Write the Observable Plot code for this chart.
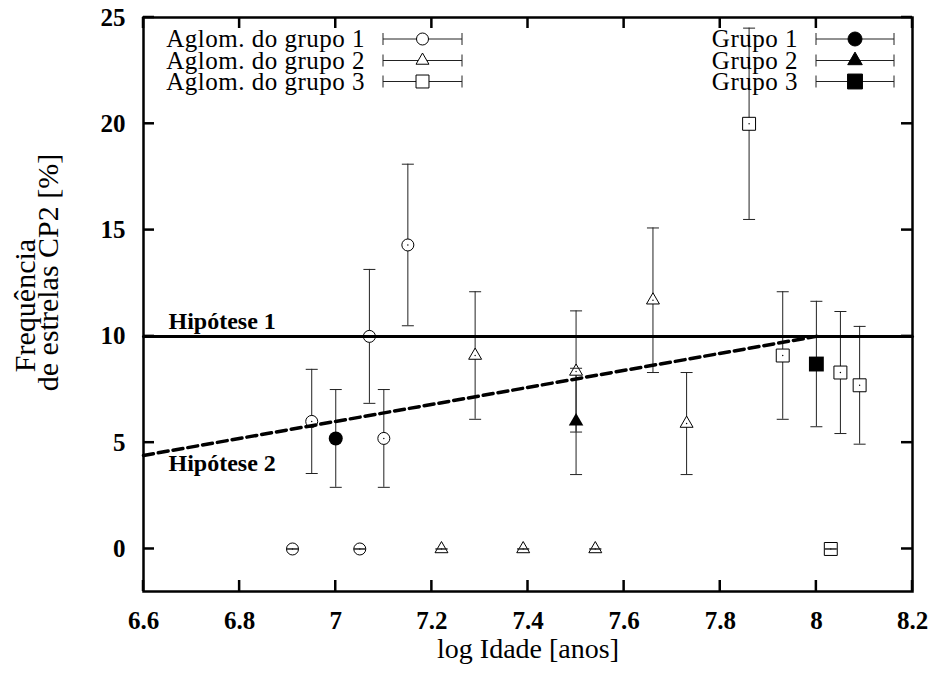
<!DOCTYPE html>
<html><head><meta charset="utf-8">
<script src="https://cdn.jsdelivr.net/npm/d3@7"></script>
<script src="https://cdn.jsdelivr.net/npm/@observablehq/plot@0.6"></script>
<style>
body{margin:0;background:#fff;}
#chart svg{display:block;}
</style>
</head><body><div id="chart"></div>
<script>
// ---- data ----
const aglom1X = [6.91, 6.95, 7.05, 7.07, 7.10, 7.15];
const aglom1Y = [0, 6.0, 0, 10.0, 5.2, 14.3];
const aglom1E = [0, 2.45, 0, 3.15, 2.3, 3.8];
const aglom2X = [7.22, 7.29, 7.39, 7.50, 7.54, 7.66, 7.73];
const aglom2Y = [0, 9.1, 0, 8.35, 0, 11.7, 5.9];
const aglom2E = [0, 3.0, 0, 2.85, 0, 3.4, 2.4];
const aglom3X = [7.86, 7.93, 8.03, 8.05, 8.09];
const aglom3Y = [20.0, 9.1, 0, 8.3, 7.7];
const aglom3E = [4.5, 3.0, 0, 2.87, 2.77];
const grupoX = [7.0, 7.5, 8.0];
const grupoY = [5.2, 6.0, 8.7];
const grupoE = [2.3, 2.5, 2.95];
const hip1X = [6.6, 8.2];
const hip1Y = [10, 10];
const hip2X = [6.6, 8.0];
const hip2Y = [4.4, 10];
const hipLabels = ["Hipótese 1", "Hipótese 2"];
const xTicks = [6.6, 6.8, 7.0, 7.2, 7.4, 7.6, 7.8, 8.0, 8.2];
const yTicks = [0, 5, 10, 15, 20, 25];
const legendLeft = ["Aglom. do grupo 1", "Aglom. do grupo 2", "Aglom. do grupo 3"];
const legendRight = ["Grupo 1", "Grupo 2", "Grupo 3"];
const xLabel = "log Idade [anos]";
const yLabel1 = "Frequência";
const yLabel2 = "de estrelas CP2 [%]";

// ---- tables ----
function table(xs, ys, es, g) {
  return xs.map((x, i) => ({x, y: ys[i], lo: ys[i] - es[i], hi: ys[i] + es[i], g}));
}
const a1 = table(aglom1X, aglom1Y, aglom1E, 1);
const a2 = table(aglom2X, aglom2Y, aglom2E, 2);
const a3 = table(aglom3X, aglom3Y, aglom3E, 3);
const gr = table(grupoX, grupoY, grupoE, 0);
const allRows = [...a1, ...a2, ...a3, ...gr];
const openRows = [...a1, ...a2, ...a3];

const cap = {draw(ctx) { ctx.moveTo(-6, 0); ctx.lineTo(6, 0); }};
const FONT = "'Liberation Serif', 'Times New Roman', serif";

// inward ticks on all four sides
function tickMarks(index, scales, values, dims) {
  const {x, y} = scales;
  const t = dims.marginTop, b = dims.height - dims.marginBottom;
  const l = dims.marginLeft, r = dims.width - dims.marginRight;
  const g = d3.create("svg:g").attr("stroke", "black").attr("stroke-width", 2.5);
  for (const v of xTicks) {
    const px = x(v);
    g.append("line").attr("x1", px).attr("x2", px).attr("y1", b).attr("y2", b - 11);
    g.append("line").attr("x1", px).attr("x2", px).attr("y1", t).attr("y2", t + 11);
  }
  for (const v of yTicks) {
    const py = y(v);
    g.append("line").attr("y1", py).attr("y2", py).attr("x1", l).attr("x2", l + 11);
    g.append("line").attr("y1", py).attr("y2", py).attr("x1", r).attr("x2", r - 11);
  }
  return g.node();
}

// key with sample error bars
function legendMark(index, scales, values, dims) {
  const t = dims.marginTop;
  const l = dims.marginLeft, r = dims.width - dims.marginRight;
  const g = d3.create("svg:g");
  const rowsY = [22, 43.5, 64.5].map(d => t + d);
  const openSyms = [
    d3.symbol(d3.symbolCircle, Math.PI * 36),
    d3.symbol(d3.symbolTriangle, Math.PI * 4.8 * 4.8),
    d3.symbol(d3.symbolSquare, Math.PI * 7.3 * 7.3)
  ];
  const fillSyms = [
    d3.symbol(d3.symbolCircle, Math.PI * 49),
    d3.symbol(d3.symbolTriangle, Math.PI * 5.4 * 5.4),
    d3.symbol(d3.symbolSquare, Math.PI * 8.4 * 8.4)
  ];
  const blocks = [
    {labels: legendLeft, tx: l + 222, x1: l + 240, x2: l + 319, syms: openSyms, filled: false},
    {labels: legendRight, tx: r - 114, x1: r - 96, x2: r - 18, syms: fillSyms, filled: true}
  ];
  for (const blk of blocks) {
    blk.labels.forEach((lab, i) => {
      const yy = rowsY[i];
      g.append("text").attr("x", blk.tx).attr("y", yy).attr("dy", "0.33em")
        .attr("text-anchor", "end").attr("font-size", 25).attr("letter-spacing", "0.5px")
        .attr("font-family", FONT).attr("fill", "black").text(lab);
      const ln = g.append("g").attr("stroke", "#222").attr("stroke-width", 1);
      ln.append("line").attr("x1", blk.x1).attr("x2", blk.x2).attr("y1", yy).attr("y2", yy);
      ln.append("line").attr("x1", blk.x1).attr("x2", blk.x1).attr("y1", yy - 6).attr("y2", yy + 6);
      ln.append("line").attr("x1", blk.x2).attr("x2", blk.x2).attr("y1", yy - 6).attr("y2", yy + 6);
      const cx = (blk.x1 + blk.x2) / 2;
      g.append("path").attr("d", blk.syms[i]()).attr("transform", `translate(${cx},${yy})`)
        .attr("fill", blk.filled ? "black" : "white").attr("stroke", "black").attr("stroke-width", 1);
    });
  }
  return g.node();
}

const chart = Plot.plot({
  width: 934,
  height: 676,
  marginLeft: 143,
  marginRight: 22,
  marginTop: 17,
  marginBottom: 85,
  style: {fontFamily: FONT, background: "white", color: "black"},
  x: {domain: [6.6, 8.2]},
  y: {domain: [-2, 25]},
  marks: [
    // error bars
    Plot.ruleX(allRows, {x: "x", y1: "lo", y2: "hi", stroke: "#222", strokeWidth: 1}),
    // open markers
    Plot.dot(a1, {x: "x", y: "y", symbol: "circle", r: 6, fill: "white", stroke: "black", strokeWidth: 1}),
    Plot.dot(a2, {x: "x", y: "y", symbol: "triangle", r: 4.8, fill: "white", stroke: "black", strokeWidth: 1}),
    Plot.dot(a3, {x: "x", y: "y", symbol: "square", r: 7.3, fill: "white", stroke: "black", strokeWidth: 1}),
    Plot.dot(openRows, {x: "x", y: "y", r: 0.7, fill: "black"}),
    // filled markers
    Plot.dot(gr.slice(0, 1), {x: "x", y: "y", symbol: "circle", r: 7, fill: "black"}),
    Plot.dot(gr.slice(1, 2), {x: "x", y: "y", symbol: "triangle", r: 5.4, fill: "black"}),
    Plot.dot(gr.slice(2, 3), {x: "x", y: "y", symbol: "square", r: 8.4, fill: "black"}),
    // error bar caps
    Plot.dot(allRows, {x: "x", y: "lo", symbol: cap, stroke: "#222", strokeWidth: 1, fill: "none"}),
    Plot.dot(allRows, {x: "x", y: "hi", symbol: cap, stroke: "#222", strokeWidth: 1, fill: "none"}),
    // hypotheses
    Plot.line(hip1X.map((x, i) => ({x, y: hip1Y[i]})), {x: "x", y: "y", stroke: "black", strokeWidth: 3}),
    Plot.line(hip2X.map((x, i) => ({x, y: hip2Y[i]})), {x: "x", y: "y", stroke: "black", strokeWidth: 3.5, strokeDasharray: "10,5"}),
    Plot.text([hipLabels[0]], {x: hip1X[0], y: hip1Y[0], text: d => d, dx: 25, dy: -15, textAnchor: "start", fontSize: 24, fontWeight: "bold", letterSpacing: "1.5px", fill: "black"}),
    Plot.text([hipLabels[1]], {x: hip2X[0], y: hip2Y[0], text: d => d, dx: 25, dy: 8, textAnchor: "start", fontSize: 24, fontWeight: "bold", letterSpacing: "1.5px", fill: "black"}),
    // frame, ticks, legend
    Plot.frame({stroke: "black", strokeWidth: 2.5}),
    tickMarks,
    legendMark,
    // axes labels
    Plot.axisX({ticks: xTicks, tickSize: 0, tickPadding: 20, tickFormat: d => String(+d.toFixed(1)), fontSize: 25, fontWeight: "bold", letterSpacing: "1px", label: null}),
    Plot.axisY({ticks: yTicks, tickSize: 0, tickPadding: 18, fontSize: 25, fontWeight: "bold", letterSpacing: "1px", label: null}),
    Plot.text([xLabel], {frameAnchor: "bottom", text: d => d, dy: 66, fontSize: 28, letterSpacing: "0.8px", fill: "black"}),
    Plot.text([yLabel1], {frameAnchor: "left", textAnchor: "middle", text: d => d, dx: -118, dy: 1, rotate: -90, fontSize: 30, letterSpacing: "2px", fill: "black"}),
    Plot.text([yLabel2], {frameAnchor: "left", textAnchor: "middle", text: d => d, dx: -95, dy: -32, rotate: -90, fontSize: 30, letterSpacing: "2px", fill: "black"})
  ]
});
document.getElementById("chart").appendChild(chart);
</script>
</body></html>
